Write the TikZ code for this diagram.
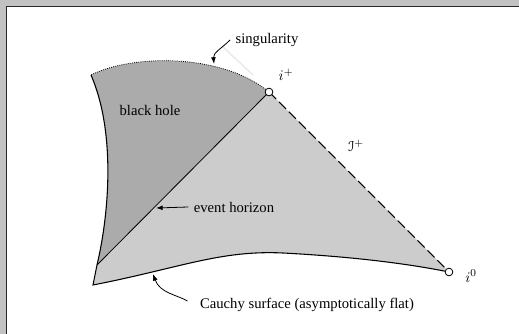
\documentclass[tikz,border=0pt]{standalone}
\usepackage{fontspec}
\setmainfont{Liberation Serif}
\usepackage[mathscr]{euscript}
\usetikzlibrary{positioning,arrows.meta}

\colorlet{holegray}{black!33}
\colorlet{outsidegray}{black!20}
\colorlet{framegray}{black!24}

\begin{document}
\begin{tikzpicture}[
	x=0.75pt, y=-0.75pt,
	>={Latex[length=5pt,width=3.6pt]},
	every node/.style={font=\fontsize{11}{13}\selectfont},
	caption/.style={inner sep=4pt},
	endpoint/.style={
		circle,
		draw,
		fill=white,
		line width=0.6pt,
		minimum size=5.8pt,
		inner sep=0pt
	},
	pointer/.style={->, line width=0.6pt},
	edge/.style={line width=0.8pt}
	]
	
	\useasboundingbox (0,0) rectangle (519,334);
	
	%%%%%%%%%%%%%%%%%%%%%%%%%%%%%%%%%%%%%%%%%%%%%%%%%%%%%%%%%%%%
	% Frame
	%%%%%%%%%%%%%%%%%%%%%%%%%%%%%%%%%%%%%%%%%%%%%%%%%%%%%%%%%%%%
	
	\fill[framegray] (0,0) rectangle (519,334);
	\fill[white] (6,6) rectangle (519,334);
	\draw[black!85, line width=1.1pt] (6.5,334) -- (6.5,6.5) -- (519,6.5);
	
	%%%%%%%%%%%%%%%%%%%%%%%%%%%%%%%%%%%%%%%%%%%%%%%%%%%%%%%%%%%%
	% Corners of the diagram
	%%%%%%%%%%%%%%%%%%%%%%%%%%%%%%%%%%%%%%%%%%%%%%%%%%%%%%%%%%%%
	
	\coordinate (top) at (91,75);
	\coordinate (hbot) at (97,265);
	\coordinate (bot) at (93,285);
	\coordinate (ip) at (269,92);
	\coordinate (iz) at (449,272);
	
	%%%%%%%%%%%%%%%%%%%%%%%%%%%%%%%%%%%%%%%%%%%%%%%%%%%%%%%%%%%%
	% Regions
	%%%%%%%%%%%%%%%%%%%%%%%%%%%%%%%%%%%%%%%%%%%%%%%%%%%%%%%%%%%%
	
	\fill[outsidegray] (top) .. controls (115,130) and (110,210) .. (hbot)
	-- (bot) .. controls (180,268) and (220,250) .. (283,253)
	.. controls (340,256) and (400,262) .. (iz)
	-- (ip) .. controls (220,52) and (130,55) .. (top) -- cycle;
	
	\fill[holegray] (top) .. controls (115,130) and (110,210) .. (hbot)
	-- (ip) .. controls (220,52) and (130,55) .. (top) -- cycle;
	
	\draw[black!8, line width=1.2pt] (222,46) -- (253,75);
	
	%%%%%%%%%%%%%%%%%%%%%%%%%%%%%%%%%%%%%%%%%%%%%%%%%%%%%%%%%%%%
	% Boundaries
	%%%%%%%%%%%%%%%%%%%%%%%%%%%%%%%%%%%%%%%%%%%%%%%%%%%%%%%%%%%%
	
	% left edge and Cauchy surface
	
	\draw[edge] (top) .. controls (115,130) and (110,210) .. (hbot)
	-- (bot) .. controls (180,268) and (220,250) .. (283,253)
	.. controls (340,256) and (400,262) .. (iz);
	
	% horizon
	
	\draw[line width=0.6pt] (hbot) -- (ip);
	
	% scri
	
	\draw[edge, dash pattern=on 7.5pt off 3pt] (ip) -- (iz);
	
	% singularity
	
	\draw[line width=0.6pt, densely dotted] (ip) .. controls (220,52) and (130,55) .. (top);
	
	%%%%%%%%%%%%%%%%%%%%%%%%%%%%%%%%%%%%%%%%%%%%%%%%%%%%%%%%%%%%
	% Points at infinity
	%%%%%%%%%%%%%%%%%%%%%%%%%%%%%%%%%%%%%%%%%%%%%%%%%%%%%%%%%%%%
	
	\node[endpoint] (iplus) at (ip) {};
	\node[endpoint] (izero) at (iz) {};
	
	\node (iplustext) at (286,75) {$i^+$};
	\node (izerotext) at (471,276) {$i^0$};
	\node (scritext) at (356,146) {$\mathscr{I}^+$};
	
	%%%%%%%%%%%%%%%%%%%%%%%%%%%%%%%%%%%%%%%%%%%%%%%%%%%%%%%%%%%%
	% Labels
	%%%%%%%%%%%%%%%%%%%%%%%%%%%%%%%%%%%%%%%%%%%%%%%%%%%%%%%%%%%%
	
	\node[caption] (holetext) at (150,110) {black hole};
	\node[caption] (singtext) at (267,40) {singularity};
	\node[caption] (horiztext) at (234,207) {event horizon};
	\node[caption] (cauchytext) at (307,305) {Cauchy surface (asymptotically flat)};
	
	\coordinate (singtip) at (214,64);
	\coordinate (horiztip) at (156,208);
	\coordinate (cauchytip) at (153,274);
	
	\draw[pointer] (singtext.west) to[out=225, in=95] (singtip);
	
	\draw[pointer] (horiztext.west) -- (horiztip);
	
	\draw[pointer, shorten <=6pt] (cauchytext.west) to[out=150, in=-70] (cauchytip);
	
\end{tikzpicture}
\end{document}
